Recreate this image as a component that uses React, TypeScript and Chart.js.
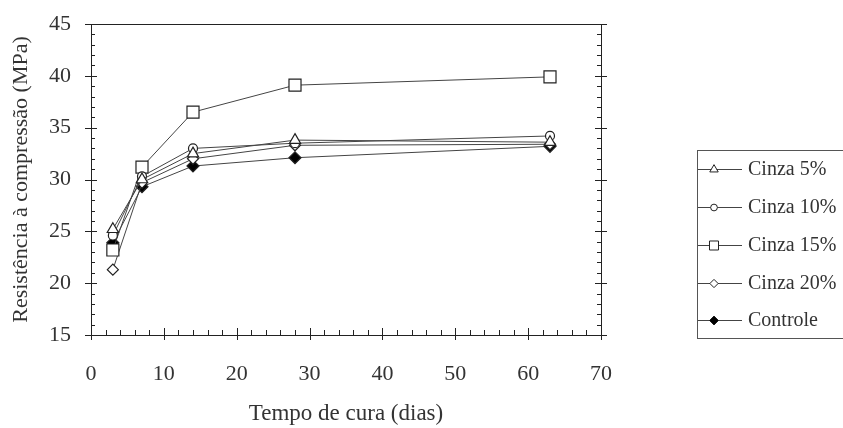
import React, { useEffect, useRef } from "react";
import { Chart, registerables } from "chart.js";
import { drawPoint } from "chart.js/helpers";

Chart.register(...registerables);

const days = [3, 7, 14, 28, 63];
const cinza5 = [25.2, 30.0, 32.5, 33.8, 33.6];
const cinza10 = [24.6, 30.3, 33.0, 33.5, 34.2];
const cinza15 = [23.2, 31.2, 36.5, 39.1, 39.9];
const cinza20 = [21.3, 29.7, 32.0, 33.3, 33.4];
const controle = [23.9, 29.3, 31.3, 32.1, 33.2];
const seriesLabels = ["Cinza 5%", "Cinza 10%", "Cinza 15%", "Cinza 20%", "Controle"];
const xTicks = [0, 10, 20, 30, 40, 50, 60, 70];
const yTicks = [15, 20, 25, 30, 35, 40, 45];

const FONT = "'Liberation Serif', 'DejaVu Serif', serif";
const TEXT = "#333";
const LINE = "#444";

const frame = {
  id: "frame",
  afterDatasetsDraw(chart: any) {
    const { ctx, chartArea: a, scales } = chart;
    const xs = scales.x, ys = scales.y;
    ctx.save();
    ctx.strokeStyle = "#222";
    ctx.lineWidth = 1;
    ctx.strokeRect(Math.round(a.left) + 0.5, Math.round(a.top) + 0.5, Math.round(a.right - a.left), Math.round(a.bottom - a.top));
    ctx.beginPath();
    for (let v = 15; v <= 45; v += 1) {
      const y = Math.round(ys.getPixelForValue(v)) + 0.5;
      const major = v % 5 === 0;
      ctx.moveTo(a.left - (major ? 6 : 0), y);
      ctx.lineTo(a.left + (major ? 6 : 4), y);
      ctx.moveTo(a.right - (major ? 6 : 4), y);
      ctx.lineTo(a.right + (major ? 6 : 0), y);
    }
    for (let v = 0; v <= 70; v += 2) {
      const x = Math.round(xs.getPixelForValue(v)) + 0.5;
      const major = v % 10 === 0;
      ctx.moveTo(x, a.bottom + (major ? 5 : 0));
      ctx.lineTo(x, a.bottom - (major ? 7 : 5));
    }
    ctx.stroke();
    ctx.restore();
  },
};

const legendBox = {
  id: "legendBox",
  afterDraw(chart: any) {
    const { ctx } = chart;
    const rows = [169, 207, 245, 283, 320];
    ctx.save();
    ctx.strokeStyle = "#555";
    ctx.lineWidth = 1;
    ctx.strokeRect(697.5, 150.5, 160, 188);
    chart.data.datasets.forEach((ds: any, i: number) => {
      const y = rows[i] + 0.5;
      ctx.strokeStyle = LINE;
      ctx.lineWidth = 1;
      ctx.beginPath();
      ctx.moveTo(698, y);
      ctx.lineTo(742, y);
      ctx.stroke();
      ctx.fillStyle = ds.pointBackgroundColor;
      ctx.strokeStyle = "#222";
      ctx.lineWidth = 1;
      drawPoint(ctx, { pointStyle: ds.pointStyle, radius: ds.pointRadius * 0.75, rotation: 0, borderWidth: 1 } as any, 714, y);
      ctx.fillStyle = TEXT;
      ctx.font = "20px " + FONT;
      ctx.textBaseline = "middle";
      ctx.fillText(ds.label, 748, y);
    });
    ctx.restore();
  },
};

export default function App() {
  const ref = useRef<HTMLCanvasElement>(null);
  useEffect(() => {
    document.body.style.margin = "0";
    const mk = (label: string, data: number[], style: string, r: number, fill: string) => ({
      label,
      data: days.map((d, i) => ({ x: d, y: data[i] })),
      borderColor: LINE,
      borderWidth: 1,
      pointStyle: style,
      pointRadius: r,
      pointBackgroundColor: fill,
      pointBorderColor: "#222",
      pointBorderWidth: 1.2,
      tension: 0,
      fill: false,
    });
    const chart = new Chart(ref.current!, {
      type: "line",
      data: {
        datasets: [
          mk(seriesLabels[0], cinza5, "triangle", 6.5, "#fff"),
          mk(seriesLabels[1], cinza10, "circle", 4.5, "#fff"),
          mk(seriesLabels[2], cinza15, "rect", 8.5, "#fff"),
          mk(seriesLabels[3], cinza20, "rectRot", 5.5, "#fff"),
          mk(seriesLabels[4], controle, "rectRot", 6, "#000"),
        ],
      },
      options: {
        animation: false,
        responsive: false,
        layout: { padding: { left: 0, right: 242, top: 24, bottom: 0 } },
        plugins: { legend: { display: false }, tooltip: { enabled: false } },
        scales: {
          x: {
            type: "linear",
            min: 0,
            max: 70,
            afterFit: (s: any) => { s.height = 93; },
            afterBuildTicks: (s: any) => { s.ticks = xTicks.map((v) => ({ value: v })); },
            grid: { display: false, drawTicks: false },
            border: { display: false },
            ticks: { color: TEXT, padding: 26, font: { family: FONT, size: 22 }, maxRotation: 0 },
            title: { display: true, text: "Tempo de cura (dias)", color: TEXT, font: { family: FONT, size: 23 }, padding: { top: 0, bottom: 0 } },
          },
          y: {
            type: "linear",
            min: 15,
            max: 45,
            afterFit: (s: any) => { s.width = 91; },
            afterBuildTicks: (s: any) => { s.ticks = yTicks.map((v) => ({ value: v })); },
            grid: { display: false, drawTicks: true, tickLength: 10, tickColor: "rgba(0,0,0,0)" },
            border: { display: false },
            ticks: { color: TEXT, padding: 10, font: { family: FONT, size: 22 } },
            title: { display: true, text: "Resistência à compressão (MPa)", color: TEXT, font: { family: FONT, size: 22 }, padding: { top: 8, bottom: 0 } },
          },
        },
      },
      plugins: [frame, legendBox],
    } as any);
    return () => chart.destroy();
  }, []);
  return (
    <div style={{ position: "fixed", left: 0, top: 0, width: 843, height: 428, background: "#fff" }}>
      <canvas ref={ref} width={843} height={428} />
    </div>
  );
}
